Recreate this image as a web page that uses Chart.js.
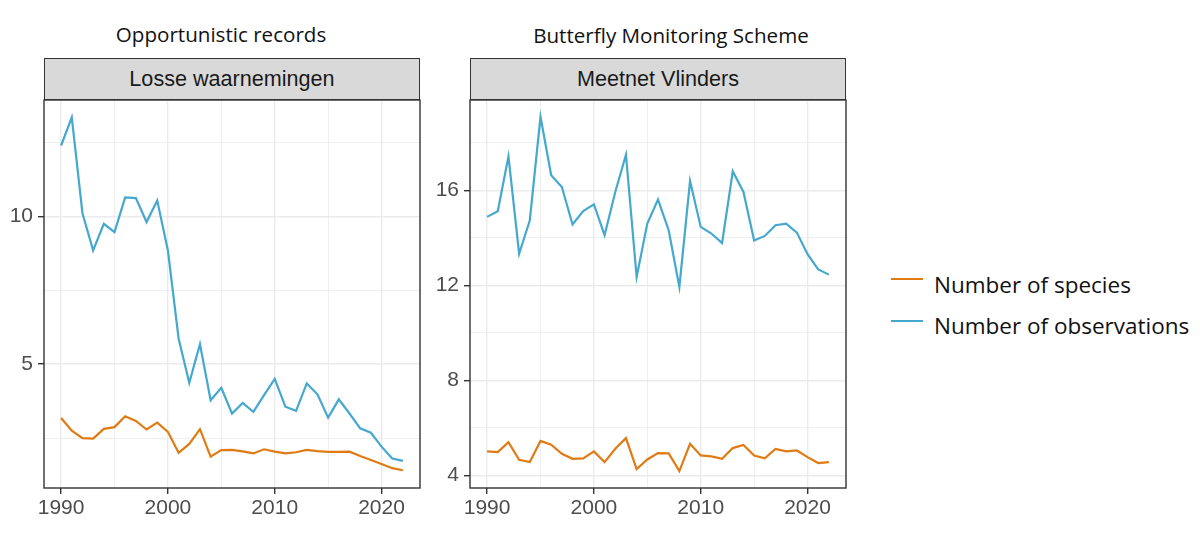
<!DOCTYPE html>
<html><head><meta charset="utf-8">
<script src="https://cdn.jsdelivr.net/npm/chart.js@4.4.1/dist/chart.umd.min.js"></script>
<style>
html,body{margin:0;padding:0;background:#fff;}
body{width:1200px;height:540px;overflow:hidden;position:relative;font-family:"Liberation Sans",Arial,sans-serif;}
.title{position:absolute;font-family:"Open Sans",sans-serif;font-size:20.6px;color:#111;transform:translate(-50%,-50%);white-space:nowrap;}
.strip{position:absolute;background:#d9d9d9;border:1.4px solid #333;box-sizing:border-box;display:flex;align-items:center;justify-content:center;font-family:"Liberation Sans",Arial,sans-serif;font-size:21.6px;color:#1a1a1a;}
.cv{position:absolute;}
.legline{position:absolute;height:2.4px;width:32px;}
.legtxt{position:absolute;font-family:"Open Sans",sans-serif;font-size:22.5px;color:#111;transform:translateY(-50%);white-space:nowrap;}
</style></head>
<body>
<div class="title" style="left:221px;top:34px;">Opportunistic records</div>
<div class="title" style="left:671px;top:35px;">Butterfly Monitoring Scheme</div>
<div class="strip" style="left:44px;top:58px;width:376px;height:42px;">Losse waarnemingen</div>
<div class="strip" style="left:470px;top:58px;width:376px;height:42px;">Meetnet Vlinders</div>
<div class="cv" style="left:0;top:99px;width:430px;height:441px;"><canvas id="c1" width="430" height="441"></canvas></div>
<div class="cv" style="left:430px;top:99px;width:430px;height:441px;"><canvas id="c2" width="430" height="441"></canvas></div>
<div class="legline" style="left:891px;top:278px;background:#E07B14;"></div>
<div class="legtxt" style="left:934px;top:284px;">Number of species</div>
<div class="legline" style="left:891px;top:320px;background:#45A8CF;"></div>
<div class="legtxt" style="left:934px;top:325px;">Number of observations</div>
<script>
const years = [1990,1991,1992,1993,1994,1995,1996,1997,1998,1999,2000,2001,2002,2003,2004,2005,2006,2007,2008,2009,2010,2011,2012,2013,2014,2015,2016,2017,2018,2019,2020,2021,2022];

const losseObservations = [12.40,13.35,10.11,8.85,9.75,9.47,10.64,10.62,9.81,10.54,8.85,5.87,4.37,5.68,3.78,4.20,3.33,3.69,3.39,3.95,4.50,3.56,3.42,4.35,3.98,3.19,3.81,3.33,2.83,2.68,2.21,1.81,1.73];
const losseSpecies = [3.18,2.75,2.50,2.48,2.81,2.87,3.24,3.08,2.79,3.02,2.71,2.00,2.30,2.80,1.87,2.09,2.10,2.05,1.98,2.12,2.04,1.98,2.02,2.10,2.06,2.03,2.03,2.04,1.89,1.76,1.62,1.48,1.41];

const meetnetObservations = [14.88,15.12,17.43,13.33,14.74,19.09,16.63,16.14,14.56,15.13,15.41,14.11,15.93,17.50,12.35,14.60,15.61,14.32,11.93,16.39,14.46,14.18,13.78,16.80,15.93,13.89,14.08,14.53,14.60,14.22,13.31,12.67,12.45];
const meetnetSpecies = [5.01,4.98,5.40,4.66,4.56,5.45,5.29,4.91,4.70,4.72,5.01,4.56,5.12,5.57,4.27,4.67,4.94,4.93,4.18,5.33,4.84,4.80,4.70,5.15,5.28,4.84,4.72,5.11,5.01,5.05,4.77,4.52,4.56];

const xGridTicks = [1990,1995,2000,2005,2010,2015,2020];
const xTickLabels = [1990,2000,2010,2020];
const leftYGridTicks = [2.5,5,7.5,10,12.5];
const leftYTickLabels = [5,10];
const rightYGridTicks = [4,6,8,10,12,14,16,18];
const rightYTickLabels = [4,8,12,16];

const seriesNames = ['Number of species','Number of observations'];
const seriesColors = ['#E07B14','#45A8CF'];

const panelBorder = {
  id:'panelBorder',
  afterDraw(chart){
    const {ctx, chartArea:a} = chart;
    ctx.save();
    ctx.strokeStyle = '#333333';
    ctx.lineWidth = 1.4;
    ctx.strokeRect(a.left, a.top, a.right - a.left, a.bottom - a.top);
    ctx.restore();
  }
};

function zeroPad(s){ s.paddingTop = 0; s.paddingBottom = 0; s.paddingLeft = 0; s.paddingRight = 0; }

function makeChart(id, species, observations, yRange, yGrid, yLabels, yWidth, padRight){
  const toPts = arr => arr.map((v,i)=>({x:years[i], y:v}));
  const tickFont = {family:'"Liberation Sans", Arial, sans-serif', size:21};
  return new Chart(document.getElementById(id), {
    type:'line',
    data:{datasets:[
      {label:seriesNames[0], data:toPts(species), borderColor:seriesColors[0], borderWidth:2.2, pointRadius:0, tension:0, fill:false},
      {label:seriesNames[1], data:toPts(observations), borderColor:seriesColors[1], borderWidth:2.2, pointRadius:0, tension:0, fill:false}
    ]},
    options:{
      responsive:false, animation:false, devicePixelRatio:1,
      layout:{padding:{left:0, right:padRight, top:1, bottom:0}},
      plugins:{legend:{display:false}, tooltip:{enabled:false}},
      scales:{
        x:{
          type:'linear', min:1988.4, max:2023.6,
          afterBuildTicks: s => { s.ticks = xGridTicks.map(v=>({value:v})); },
          afterFit: s => { s.height = 52; zeroPad(s); },
          ticks:{autoSkip:false, maxRotation:0, padding:2, color:'#4D4D4D', font:tickFont,
            callback: v => xTickLabels.includes(v) ? String(v) : ''},
          grid:{color:'#EBEBEB', tickLength:6,
            lineWidth: c => (c.tick && xTickLabels.includes(c.tick.value)) ? 1.4 : 0.8,
            tickColor: c => (c.tick && xTickLabels.includes(c.tick.value)) ? '#333333' : 'rgba(0,0,0,0)',
            tickWidth:1.4},
          border:{display:false}
        },
        y:{
          type:'linear', min:yRange[0], max:yRange[1],
          afterBuildTicks: s => { s.ticks = yGrid.map(v=>({value:v})); },
          afterFit: s => { s.width = yWidth; zeroPad(s); },
          ticks:{autoSkip:false, padding:5, color:'#4D4D4D', font:tickFont,
            callback: v => yLabels.includes(v) ? String(v) : ''},
          grid:{color:'#EBEBEB', tickLength:6,
            lineWidth: c => (c.tick && yLabels.includes(c.tick.value)) ? 1.4 : 0.8,
            tickColor: c => (c.tick && yLabels.includes(c.tick.value)) ? '#333333' : 'rgba(0,0,0,0)',
            tickWidth:1.4},
          border:{display:false}
        }
      }
    },
    plugins:[panelBorder]
  });
}

makeChart('c1', losseSpecies, losseObservations, [0.81,13.94], leftYGridTicks, leftYTickLabels, 44, 10);
makeChart('c2', meetnetSpecies, meetnetObservations, [3.47,19.8], rightYGridTicks, rightYTickLabels, 40, 14);
</script>
</body></html>
